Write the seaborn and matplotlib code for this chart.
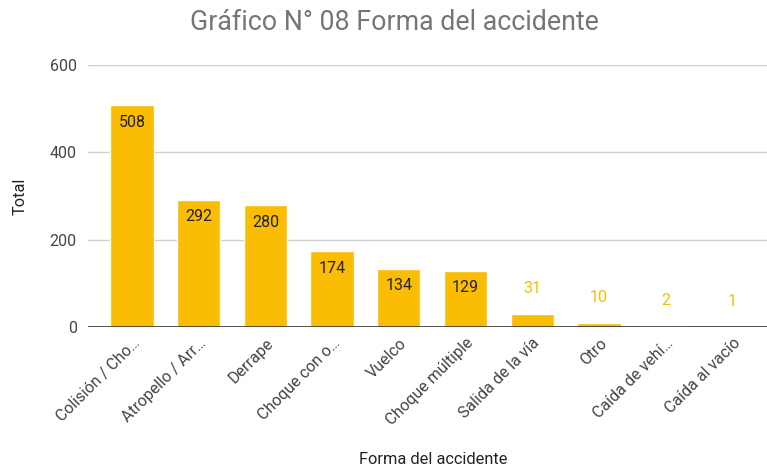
import matplotlib
matplotlib.use("Agg")
import matplotlib.pyplot as plt
import seaborn as sns
import pandas as pd

categorias = ["Colisión / Cho…", "Atropello / Arr…", "Derrape", "Choque con o…",
              "Vuelco", "Choque múltiple", "Salida de la vía", "Otro",
              "Caída de vehí…", "Caída al vacío"]
totales = [508, 292, 280, 174, 134, 129, 31, 10, 2, 1]

sns.set_style("white")
plt.rcParams['font.family'] = ['Roboto', 'DejaVu Sans']

amarillo = "#FBBC04"
df = pd.DataFrame({"Forma del accidente": categorias, "Total": totales})

fig = plt.figure(figsize=(7.67, 4.66), dpi=100)
ax = fig.add_axes([0.1147, 0.298, 0.8853, 0.5625])
sns.barplot(data=df, x="Forma del accidente", y="Total", color=amarillo,
            saturation=1, width=0.65, ax=ax, zorder=3)

ax.set_ylim(0, 600)
ax.set_xlim(-0.66, 9.52)
ax.set_yticks([0, 200, 400, 600])
ax.grid(axis="y", color="#d0d0d0", linewidth=1, zorder=0)
ax.axhline(0, color="#333333", linewidth=1.2, zorder=4)
for s in ax.spines.values():
    s.set_visible(False)
ax.tick_params(axis="both", length=0, labelsize=11.5, labelcolor="#444444")
ax.tick_params(axis="y", pad=8)
ax.tick_params(axis="x", pad=6)
plt.setp(ax.get_xticklabels(), rotation=45, ha="right", rotation_mode="anchor")

for i, v in enumerate(totales):
    if v > 60:
        ax.annotate(str(v), (i, v), xytext=(0, -7), textcoords="offset points",
                    ha="center", va="top", fontsize=11.5, color="#222222", zorder=5)
    else:
        ax.annotate(str(v), (i, v), xytext=(0, 13), textcoords="offset points",
                    ha="center", va="bottom", fontsize=11.5, color=amarillo, zorder=5)

ax.set_xlabel("Forma del accidente", fontsize=11.8, color="#222222")
ax.xaxis.set_label_coords(0.509, -0.475)
ax.set_ylabel("Total", fontsize=11.8, color="#222222", labelpad=16)
fig.suptitle("Gráfico N° 08 Forma del accidente", fontsize=19.3, color="#757575",
             x=0.514, y=0.98)

fig.savefig("out.png", dpi=100)
